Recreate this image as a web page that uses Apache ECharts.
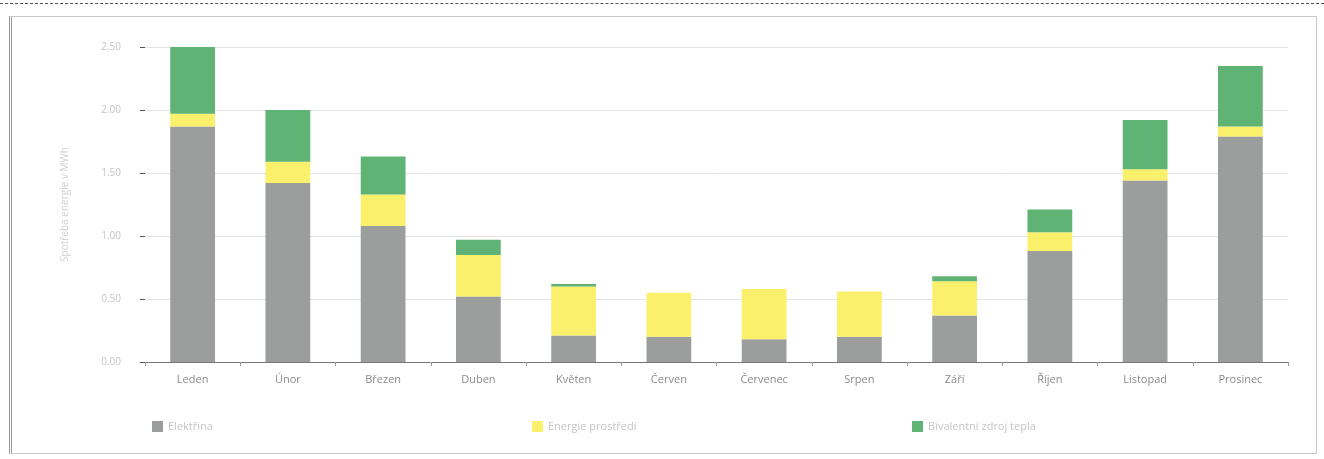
<!DOCTYPE html>
<html>
<head>
<meta charset="utf-8">
<script src="https://cdn.jsdelivr.net/npm/echarts@6/dist/echarts.min.js"></script>
<style>
html,body{margin:0;padding:0;background:#fff;}
#wrap{position:relative;width:1324px;height:459px;overflow:hidden;}
#topline{position:absolute;left:0;top:3px;width:1324px;height:0;border-top:1px dashed #555;}
#frame{position:absolute;left:9px;top:16px;width:1308px;height:438px;border:1px solid #c8c8c8;border-left:3px double #999;box-sizing:border-box;}
#chart{position:absolute;left:0;top:0;width:1324px;height:459px;}
</style>
</head>
<body>
<div id="wrap">
<div id="topline"></div>
<div id="frame"></div>
<div id="chart"></div>
</div>
<script>
const months = ['Leden','Únor','Březen','Duben','Květen','Červen','Červenec','Srpen','Září','Říjen','Listopad','Prosinec'];
const seriesNames = ['Elektřina','Energie prostředí','Bivalentní zdroj tepla'];
const elektrina = [1.87, 1.42, 1.08, 0.52, 0.21, 0.20, 0.18, 0.20, 0.37, 0.88, 1.44, 1.79];
const prostredi = [0.10, 0.17, 0.25, 0.33, 0.39, 0.35, 0.40, 0.36, 0.27, 0.15, 0.09, 0.08];
const bivalent  = [0.55, 0.41, 0.30, 0.12, 0.02, 0, 0, 0, 0.04, 0.18, 0.39, 0.48];
const yTicks = [0, 0.5, 1.0, 1.5, 2.0, 2.5];

const colors = ['#9c9e9d', '#faf06c', '#5fb475'];
const chart = echarts.init(document.getElementById('chart'));
const legendBase = {
  top: 416, icon: 'rect', itemWidth: 11, itemHeight: 11,
  textStyle: {color: '#c4c4c4', fontSize: 11, fontFamily: 'Open Sans'}
};
chart.setOption({
  animation: false,
  color: colors,
  grid: {left: 145, right: 36, top: 47, bottom: 97},
  legend: [
    Object.assign({left: 147, data: [seriesNames[0]]}, legendBase),
    Object.assign({left: 527, data: [seriesNames[1]]}, legendBase),
    Object.assign({left: 907, data: [seriesNames[2]]}, legendBase)
  ],
  xAxis: {
    type: 'category', data: months,
    axisLine: {lineStyle: {color: '#777'}},
    axisTick: {show: true, length: 4, lineStyle: {color: '#999'}},
    axisLabel: {color: '#8a8a8a', fontSize: 11, margin: 12, fontFamily: 'Open Sans'}
  },
  yAxis: {
    type: 'value', min: yTicks[0], max: yTicks[yTicks.length-1], interval: 0.5,
    name: 'Spotřeba energie v MWh', nameLocation: 'middle', nameGap: 75, nameRotate: 90,
    nameTextStyle: {color: '#d0d0d0', fontSize: 10, fontFamily: 'Open Sans'},
    axisLine: {show: false},
    axisTick: {show: true, length: 5, lineStyle: {color: '#555'}},
    splitLine: {lineStyle: {color: '#e4e4e4'}},
    axisLabel: {color: '#c4c4c4', fontSize: 10, margin: 24, fontFamily: 'Open Sans',
      formatter: v => v.toFixed(2)}
  },
  series: [
    {name: seriesNames[0], type: 'bar', stack: 't', data: elektrina, barWidth: '47%'},
    {name: seriesNames[1], type: 'bar', stack: 't', data: prostredi, barWidth: '47%'},
    {name: seriesNames[2], type: 'bar', stack: 't', data: bivalent, barWidth: '47%'}
  ]
});
</script>
</body>
</html>
